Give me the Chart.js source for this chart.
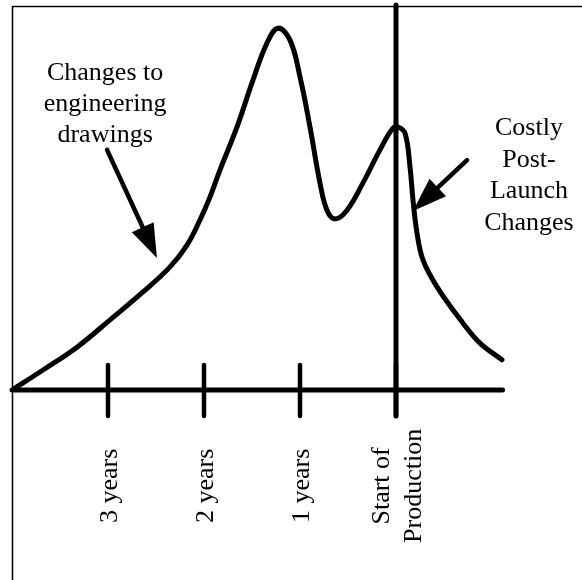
<!DOCTYPE html>
<html>
<head>
<meta charset="utf-8">
<script src="https://cdn.jsdelivr.net/npm/chart.js@4.4.0/dist/chart.umd.min.js"></script>
<style>
  body { margin: 0; background: #fff; }
  canvas { display: block; }
</style>
</head>
<body>
<canvas id="chart" width="582" height="580"></canvas>
<script>
// years relative to start of production, and relative number of changes
const curveX = [-4, -3.677, -3.323, -2.979, -2.635, -2.354, -2.177, -2.042, -1.938, -1.833, -1.656, -1.49,
  -1.344, -1.229, -1.104, -1.0, -0.896, -0.792, -0.719, -0.635, -0.51, -0.344, -0.167, -0.031, 0.021,
  0.094, 0.146, 0.177, 0.219, 0.281, 0.427, 0.698, 0.875, 1.104];
const curveY = [0, 5.5, 11.8, 19.3, 27.0, 33.9, 39.9, 46.8, 53.1, 60.6, 72.4, 85.3,
  95.5, 99.6, 96.3, 86.2, 72.4, 57.0, 49.5, 47.1, 49.5, 57.0, 66.1, 72.1, 72.4,
  70.7, 61.4, 52.3, 43.2, 35.8, 28.4, 18.4, 12.9, 8.3];

const tickYears = [-3, -2, -1, 0];
const tickLabels = [['3 years'], ['2 years'], ['1 years'], ['Start of', 'Production']];
const axisStart = -4;
const axisEnd = 1.11;
const productionLineTop = 106;

const noteLeft = ['Changes to', 'engineering', 'drawings'];
const noteRight = ['Costly', 'Post-', 'Launch', 'Changes'];

const font = '26px "Liberation Serif", "Times New Roman", serif';

function arrow(ctx, x1, y1, x2, y2) {
  const ang = Math.atan2(y2 - y1, x2 - x1);
  const len = 34, half = 12;
  const bx = x2 - len * Math.cos(ang), by = y2 - len * Math.sin(ang);
  ctx.beginPath();
  ctx.moveTo(x1, y1);
  ctx.lineTo(bx, by);
  ctx.lineWidth = 4.5;
  ctx.lineCap = 'round';
  ctx.stroke();
  ctx.beginPath();
  ctx.moveTo(x2, y2);
  ctx.lineTo(bx + half * Math.sin(ang), by - half * Math.cos(ang));
  ctx.lineTo(bx - half * Math.sin(ang), by + half * Math.cos(ang));
  ctx.closePath();
  ctx.fill();
}

const decor = {
  id: 'decor',
  afterDatasetsDraw(chart) {
    const ctx = chart.ctx;
    const xs = chart.scales.x, ys = chart.scales.y;
    const y0 = ys.getPixelForValue(0);
    ctx.save();
    ctx.strokeStyle = '#000';
    ctx.fillStyle = '#000';

    // frame
    ctx.lineWidth = 1.5;
    ctx.strokeRect(chart.chartArea.left + 0.5, chart.chartArea.top + 0.5, 700, 700);

    // time axis
    ctx.lineCap = 'round';
    ctx.lineWidth = 5;
    ctx.beginPath();
    ctx.moveTo(xs.getPixelForValue(axisStart), y0);
    ctx.lineTo(xs.getPixelForValue(axisEnd), y0);
    ctx.stroke();

    // start of production line
    const xp = xs.getPixelForValue(0);
    ctx.beginPath();
    ctx.moveTo(xp, ys.getPixelForValue(productionLineTop));
    ctx.lineTo(xp, y0 + 26);
    ctx.stroke();

    // ticks and rotated labels
    ctx.font = font;
    ctx.textAlign = 'center';
    ctx.textBaseline = 'alphabetic';
    tickYears.forEach((v, i) => {
      const x = xs.getPixelForValue(v);
      ctx.lineWidth = 4.5;
      ctx.beginPath();
      ctx.moveTo(x, y0 - 25);
      ctx.lineTo(x, y0 + 26);
      ctx.stroke();
      const lines = tickLabels[i];
      const cy = ys.getPixelForValue(-26.4);
      lines.forEach((t, j) => {
        const off = (j - (lines.length - 1) / 2) * 32 + 9;
        ctx.save();
        ctx.translate(x + off, cy);
        ctx.rotate(-Math.PI / 2);
        ctx.fillText(t, 0, 0);
        ctx.restore();
      });
    });

    // notes
    noteLeft.forEach((t, j) => {
      ctx.fillText(t, xs.getPixelForValue(-3.03), ys.getPixelForValue(85.3) + j * 31);
    });
    noteRight.forEach((t, j) => {
      ctx.fillText(t, xs.getPixelForValue(1.385), ys.getPixelForValue(70.2) + j * 31.6);
    });

    arrow(ctx, xs.getPixelForValue(-3.01), ys.getPixelForValue(66.1),
      xs.getPixelForValue(-2.49), ys.getPixelForValue(36.3));
    arrow(ctx, xs.getPixelForValue(0.74), ys.getPixelForValue(63.3),
      xs.getPixelForValue(0.177), ys.getPixelForValue(49.3));
    ctx.restore();
  }
};

new Chart(document.getElementById('chart'), {
  type: 'line',
  data: {
    datasets: [{
      data: curveX.map((x, i) => ({ x: x, y: curveY[i] })),
      borderColor: '#000',
      borderWidth: 5,
      borderCapStyle: 'round',
      borderJoinStyle: 'round',
      pointRadius: 0,
      tension: 0.4,
      fill: false
    }]
  },
  options: {
    responsive: false,
    animation: false,
    layout: { padding: { left: 12, top: 6, right: 0, bottom: 0 } },
    scales: {
      x: { type: 'linear', min: -4, max: 1.9375, display: false },
      y: { min: -52.3, max: 105.7, display: false }
    },
    plugins: { legend: { display: false }, tooltip: { enabled: false } }
  },
  plugins: [decor]
});
</script>
</body>
</html>
